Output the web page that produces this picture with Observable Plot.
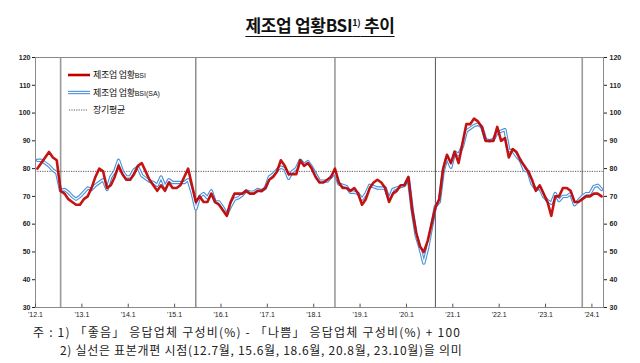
<!DOCTYPE html>
<html><head><meta charset="utf-8">
<script src="https://cdn.jsdelivr.net/npm/d3@7"></script>
<script src="https://cdn.jsdelivr.net/npm/@observablehq/plot@0.6"></script>
<style>
html,body{margin:0;padding:0;background:#fff;}
body{width:640px;height:363px;overflow:hidden;position:relative;font-family:"Noto Sans CJK KR","Noto Sans",sans-serif;color:#111;}
#title{position:absolute;left:0;width:640px;top:14px;text-align:center;font-weight:bold;font-size:17px;line-height:22px;letter-spacing:-0.3px;}
#title span.t{text-decoration:underline;text-decoration-thickness:1.3px;text-underline-offset:4px;}
#title sup{font-size:9px;vertical-align:6px;line-height:0;}
#chart{position:absolute;left:0;top:45px;}
#legend{position:absolute;left:60px;top:65px;}
.note{position:absolute;font-size:12px;line-height:16px;white-space:nowrap;color:#222;}
</style></head>
<body>
<div id="title"><span class="t">제조업 업황BSI<sup>1)</sup> 추이</span></div>
<div id="chart"></div>
<svg id="legend" width="130" height="56" viewBox="60 65 130 56">
  <line x1="68" x2="90" y1="75" y2="75" stroke="#C00000" stroke-width="2.6"/>
  <text x="93" y="78.3" font-size="9" letter-spacing="-0.3" fill="#111">제조업 업황<tspan font-size="7" letter-spacing="0" font-family="Liberation Sans, Arial">BSI</tspan></text>
  <line x1="68" x2="90" y1="92.5" y2="92.5" stroke="#4A90D9" stroke-width="3.4"/>
  <line x1="68" x2="90" y1="92.5" y2="92.5" stroke="#fff" stroke-width="1.2"/>
  <text x="93" y="95.8" font-size="9" letter-spacing="-0.3" fill="#111">제조업 업황<tspan font-size="7" letter-spacing="0" font-family="Liberation Sans, Arial">BSI(SA)</tspan></text>
  <line x1="69" x2="88" y1="110" y2="110" stroke="#333" stroke-width="0.8" stroke-dasharray="1.2,1.2"/>
  <text x="93" y="113.3" font-size="9" letter-spacing="-0.3" fill="#111">장기평균</text>
</svg>
<div class="note" style="left:33px;top:324px;letter-spacing:1.2px;">주 : 1) 「좋음」 응답업체 구성비(%) - 「나쁨」 응답업체 구성비(%) + 100</div>
<div class="note" style="left:60px;top:342px;letter-spacing:0.7px;">2) 실선은 표본개편 시점(12.7월, 15.6월, 18.6월, 20.8월, 23.10월)을 의미</div>
<script>
// Monthly series, Jan 2012 – Mar 2024 (index 0 = 2012.1)
const bsi = [80,82,84,86,84,83,72,71,69,68,67,67,
  69,70,73,77,80,79,73,74,77,81,78,76,
  76,78,81,82,79,76,74,72,74,72,75,73,
  73,74,77,80,74,68,70,68,68,71,68,67,
  65,63,68,71,71,71,72,71,71,72,72,73,
  76,77,79,83,81,78,78,78,83,81,82,80,
  77,75,75,76,77,80,75,73,73,72,73,71,
  67,69,73,75,76,75,73,68,71,72,74,74,
  77,65,57,52,50,54,60,66,69,80,85,82,
  86,82,89,96,96,98,97,95,90,90,90,95,
  90,91,84,87,86,83,81,79,76,72,74,71,
  68,63,70,70,73,73,72,68,68,69,70,70,
  71,71,70];
const sa = [83,83,82,81,79.5,78.5,72,72.5,71.5,70,69,70,
  71.5,73,72.5,74,75,76,72.5,77,79,83,79,77,
  77,79.5,80.5,77.5,76.5,75.5,75,74,77,73.5,76,75,
  75,75,75,76,71.5,65.5,70,71,69.5,72,68,68,
  66,63.5,66.5,69,69.5,70.5,72,71.5,71.5,72.5,72,73,
  77,78,79.5,80.5,80,76.5,79,80,83,81.5,82.5,80.5,
  78,75.5,75.5,75.5,77,78.5,74.5,74,73.5,71.5,71.5,71,
  69,71,74,73.5,73,73,73,69,72.5,73,73.5,74,
  76.5,65,56,51.5,46,51.5,59,66.5,68,79,84,80.5,
  86,85,88,93.5,94.5,95.5,96,95,90.5,90,90.5,93,
  93.5,94,86.5,86.5,84.5,83,79.5,79,74.5,72.5,73,70,
  68.5,67.5,71,68.5,70,70,71,67,68.5,70,71,71,
  73.5,74,72.5];
const longAvg = 79;
const xTickIdx = [0,12,24,36,48,60,72,84,96,108,120,132,144];
const xLabels = ["'12.1","'13.1","'14.1","'15.1","'16.1","'17.1","'18.1","'19.1","'20.1","'21.1","'22.1","'23.1","'24.1"];
const yTicks = [30,40,50,60,70,80,90,100,110,120];
// sample renewal months: 12.7, 15.6, 18.6, 20.8, 23.10
const renewIdx = [6,41,77,103,141];
const renewDark = [false,true,false,true,false];

const data = bsi.map((v,i)=>({i, bsi:v, sa:sa[i]}));
const renew = renewIdx.map((d,k)=>({d, dark:renewDark[k]}));
const xc = d => d.i + 0.5;

const chart = Plot.plot({
  width:640, height:280,
  marginTop:12, marginBottom:18, marginLeft:35, marginRight:37,
  x:{domain:[0,147], axis:null},
  y:{domain:[30,120], axis:null},
  style:{fontFamily:"Liberation Sans, Arial, sans-serif", background:"white", overflow:"visible"},
  marks:[
    Plot.ruleX(renew.filter(r=>!r.dark),{x:r=>r.d+0.5, stroke:"#9a9a9a", strokeWidth:1.6}),
    Plot.ruleX(renew.filter(r=>r.dark),{x:r=>r.d+0.5, stroke:"#555", strokeWidth:1}),
    Plot.ruleY([longAvg],{stroke:"#333", strokeWidth:0.8, strokeDasharray:"1.2,1.2"}),
    Plot.line(data,{x:xc, y:"sa", stroke:"#4A90D9", strokeWidth:3.4}),
    Plot.line(data,{x:xc, y:"sa", stroke:"#fff", strokeWidth:1.2}),
    Plot.line(data,{x:xc, y:"bsi", stroke:"#C00000", strokeWidth:2.6, strokeOpacity:0.92}),
    Plot.frame({stroke:"#8a8a8a", strokeWidth:1}),
    Plot.axisY({anchor:"left", ticks:yTicks, tickSize:3, tickPadding:2, fontSize:7, fontWeight:"bold", color:"#222"}),
    Plot.axisY({anchor:"right", ticks:yTicks, tickSize:3, tickPadding:3, fontSize:7, fontWeight:"bold", color:"#222"}),
    Plot.ruleX(xTickIdx,{y1:30, y2:31.2, stroke:"#555"}),
    Plot.axisX({anchor:"bottom", ticks:xTickIdx, tickSize:0, tickPadding:5, fontSize:7, color:"#222",
      tickFormat:d=>xLabels[xTickIdx.indexOf(d)]})
  ]
});
document.getElementById("chart").appendChild(chart);
</script>
</body></html>
